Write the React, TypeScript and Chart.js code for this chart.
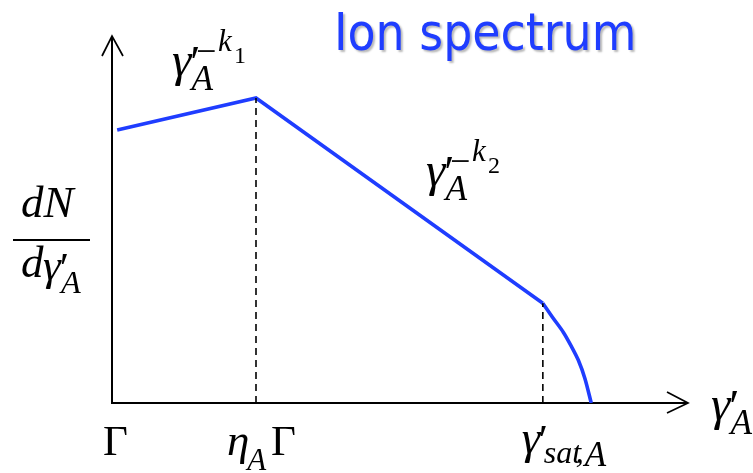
import { useEffect, useRef } from "react";
import { Chart, registerables } from "chart.js";

Chart.register(...registerables);

// Spectrum shape in arbitrary units (x: Lorentz factor, y: dN/dγ'), both 0..100
const powerLawX = [0.9, 25.0, 74.8];
const powerLawY = [74.4, 83.1, 27.2];
const cutoffX = [74.8, 76.6, 78.35, 79.8, 80.95, 82.1, 83.2];
const cutoffY = [27.2, 23.1, 19.3, 15.3, 11.7, 6.7, 0];

// Break (η_A Γ) and saturation (γ'_sat,A) markers
const markerX = [25.0, 74.8];
const markerY = [83.1, 27.2];

const titleText = "Ion spectrum";
const xTickLabels = ["Γ", "η", "A", "Γ"];

const BLUE = "#1f3dff";
const SERIF = '"Liberation Serif", "Times New Roman", serif';

function put(
  ctx: CanvasRenderingContext2D,
  s: string,
  x: number,
  y: number,
  size: number,
  italic: boolean
) {
  ctx.font = `${italic ? "italic " : ""}${size}px ${SERIF}`;
  ctx.fillText(s, x, y);
  return x + ctx.measureText(s).width;
}

// γ' with subscript A, top-left of the γ glyph at (x, top)
function gammaPrimeA(ctx: CanvasRenderingContext2D, x: number, top: number, size: number) {
  const base = top + size * 0.46;
  put(ctx, "γ", x, base, size, true);
  put(ctx, "′", x + size * 0.37, base + size * 0.04, size * 0.95, false);
  put(ctx, "A", x + size * 0.4, base + size * 0.3, size * 0.72, true);
}

function powerLabel(ctx: CanvasRenderingContext2D, x: number, top: number, idx: string) {
  gammaPrimeA(ctx, x, top, 49);
  put(ctx, "−", x + 24, top + 10, 36, false);
  put(ctx, "k", x + 46, top - 2, 31, true);
  put(ctx, idx, x + 62, top + 10, 24, false);
}

const axesAndLabels = {
  id: "axesAndLabels",
  beforeDatasetsDraw(chart: any) {
    const { ctx, scales } = chart;
    const ox = scales.x.getPixelForValue(0);
    const oy = scales.y.getPixelForValue(0);
    const xr = scales.x.getPixelForValue(100);
    const yt = scales.y.getPixelForValue(100);
    ctx.save();
    ctx.strokeStyle = "#000";
    ctx.lineWidth = 2;
    ctx.lineCap = "butt";
    ctx.beginPath();
    ctx.moveTo(ox, oy + 1);
    ctx.lineTo(ox, yt);
    ctx.moveTo(ox, oy);
    ctx.lineTo(xr, oy);
    ctx.stroke();
    ctx.lineWidth = 1.7;
    ctx.beginPath();
    ctx.moveTo(ox - 10, yt + 20);
    ctx.lineTo(ox, yt);
    ctx.lineTo(ox + 11, yt + 20);
    ctx.moveTo(xr - 21, oy - 11);
    ctx.lineTo(xr, oy);
    ctx.lineTo(xr - 21, oy + 10);
    ctx.stroke();
    ctx.restore();
  },
  afterDraw(chart: any) {
    const { ctx, scales } = chart;
    const px = (v: number) => scales.x.getPixelForValue(v);
    const py = (v: number) => scales.y.getPixelForValue(v);
    const oy = py(0);
    ctx.save();
    ctx.fillStyle = "#000";
    ctx.textBaseline = "alphabetic";

    // Title
    ctx.save();
    ctx.font = '51px "DejaVu Sans Condensed", "DejaVu Sans", sans-serif';
    ctx.fillStyle = BLUE;
    ctx.shadowColor = "rgba(0,0,0,0.28)";
    ctx.shadowOffsetX = 2;
    ctx.shadowOffsetY = 2;
    ctx.shadowBlur = 2;
    ctx.fillText(titleText, 334, 50);
    ctx.restore();

    // Power-law labels
    powerLabel(ctx, px(markerX[0]) - 84, py(markerY[0]) - 45, "1");
    powerLabel(ctx, px(markerX[0]) + 170, py(markerY[0]) + 65, "2");

    // x-axis tick labels
    put(ctx, xTickLabels[0], px(0) - 9, oy + 52, 43, false);
    const x = put(ctx, xTickLabels[1], px(markerX[0]) - 29, oy + 52, 45, true);
    put(ctx, xTickLabels[2], x - 2, oy + 67, 31, true);
    put(ctx, xTickLabels[3], px(markerX[0]) + 15, oy + 52, 43, false);

    // γ'_sat,A
    const sx = px(markerX[1]) - 21;
    const st = oy + 29;
    put(ctx, "γ", sx, st + 21, 47, true);
    put(ctx, "′", sx + 17, st + 22, 42, false);
    put(ctx, "sat", sx + 22, st + 31, 32, true);
    put(ctx, ",", sx + 54, st + 30, 32, true);
    put(ctx, "A", sx + 63, st + 34, 35, true);

    // x-axis title γ'_A
    gammaPrimeA(ctx, px(100) + 23, oy - 6, 49);

    // y-axis title dN / dγ'_A
    put(ctx, "dN", 21, 217, 45, true);
    ctx.fillRect(13, 239, 77, 2);
    put(ctx, "d", 21, 277, 45, true);
    gammaPrimeA(ctx, 43, 259, 45);

    ctx.restore();
  },
};

export default function App() {
  const ref = useRef<HTMLCanvasElement>(null);

  useEffect(() => {
    const canvas = ref.current;
    if (!canvas) return;
    const pts = (xs: number[], ys: number[]) => xs.map((x, i) => ({ x, y: ys[i] }));
    const dashed = {
      borderColor: "#000",
      borderWidth: 1.6,
      borderDash: [7, 5],
      pointRadius: 0,
      fill: false,
    };
    const chart = new Chart(canvas, {
      type: "line",
      data: {
        datasets: [
          { ...dashed, data: [{ x: markerX[0], y: 0 }, { x: markerX[0], y: markerY[0] }] },
          { ...dashed, data: [{ x: markerX[1], y: 0 }, { x: markerX[1], y: markerY[1] }] },
          {
            data: pts(powerLawX, powerLawY),
            borderColor: BLUE,
            borderWidth: 3.6,
            pointRadius: 0,
            tension: 0,
            fill: false,
          },
          {
            data: pts(cutoffX, cutoffY),
            borderColor: BLUE,
            borderWidth: 3.6,
            pointRadius: 0,
            tension: 0.3,
            fill: false,
          },
        ],
      },
      options: {
        animation: false,
        responsive: false,
        events: [],
        layout: { padding: { left: 112, right: 65, top: 36, bottom: 70 } },
        plugins: { legend: { display: false }, tooltip: { enabled: false }, title: { display: false } },
        scales: {
          x: { type: "linear", min: 0, max: 100, display: false },
          y: { type: "linear", min: 0, max: 100, display: false },
        },
      } as any,
      plugins: [axesAndLabels],
    });
    return () => chart.destroy();
  }, []);

  return (
    <div style={{ position: "fixed", left: 0, top: 0, width: 753, height: 473, background: "#fff" }}>
      <canvas ref={ref} width={753} height={473} style={{ display: "block" }} />
    </div>
  );
}
